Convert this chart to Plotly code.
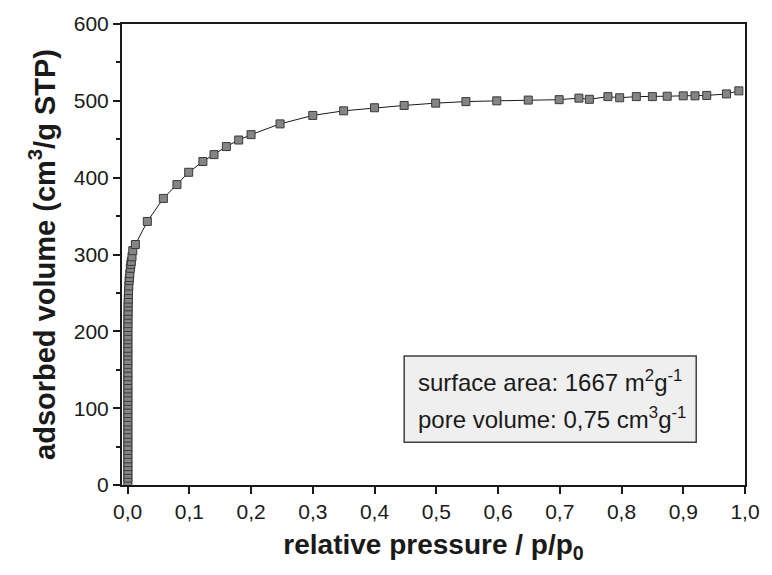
import plotly.graph_objects as go

# relative pressure p/p0 and adsorbed volume (cm3/g STP)
p_low = [0.0005, 0.0005, 0.0005, 0.0005, 0.0005, 0.0005, 0.0005, 0.0005, 0.0005, 0.0005,
         0.0005, 0.0005, 0.0005, 0.0005, 0.0005, 0.0005, 0.0005, 0.0005, 0.0005, 0.0005,
         0.0005, 0.0005, 0.0005, 0.0005, 0.0005, 0.0005, 0.0005, 0.0005, 0.0005, 0.0005,
         0.0005, 0.0005, 0.0005, 0.0005, 0.0005, 0.0005, 0.0005, 0.0005, 0.0005, 0.0006,
         0.0006, 0.0007, 0.0008, 0.0009, 0.0010, 0.0012, 0.0014, 0.0016, 0.0020, 0.0025,
         0.0031, 0.0037, 0.0045, 0.0053, 0.0062, 0.0072, 0.0085, 0.0127]
v_low = [4, 9, 14, 19, 24, 29, 34, 40, 45, 50,
         56, 61, 66, 72, 77, 82, 88, 93, 98, 104,
         109, 114, 120, 125, 130, 136, 141, 146, 152, 157,
         162, 168, 173, 178, 184, 189, 194, 200, 205, 210,
         216, 221, 226, 232, 237, 242, 248, 253, 259, 266,
         270, 275, 282, 287, 291, 297, 305, 313]

p_high = [0.032, 0.058, 0.080, 0.099, 0.122, 0.140, 0.160, 0.180, 0.200, 0.247,
          0.300, 0.350, 0.400, 0.448, 0.499, 0.548, 0.598, 0.649, 0.699, 0.731,
          0.748, 0.778, 0.797, 0.824, 0.850, 0.874, 0.900, 0.919, 0.938, 0.970, 0.990]
v_high = [343, 373, 391, 407, 421, 430, 440.5, 449, 456, 470,
          481, 487, 491, 494, 497, 499, 500, 501, 501.5, 503.5,
          502, 505.5, 504, 505.5, 505.5, 506, 506.5, 506.5, 507, 509, 513]

pressure = p_low + p_high
volume = v_low + v_high

x_ticks = [0.0, 0.1, 0.2, 0.3, 0.4, 0.5, 0.6, 0.7, 0.8, 0.9, 1.0]
x_ticklabels = ["0,0", "0,1", "0,2", "0,3", "0,4", "0,5", "0,6", "0,7", "0,8", "0,9", "1,0"]
y_ticks = [0, 100, 200, 300, 400, 500, 600]

info_lines = ["surface area: 1667 m<sup>2</sup>g<sup>-1</sup>",
              "pore volume: 0,75 cm<sup>3</sup>g<sup>-1</sup>"]

FONT = "Arial, Liberation Sans, sans-serif"
INK = "#1a1a1a"

fig = go.Figure()
fig.add_trace(go.Scatter(
    x=pressure, y=volume, mode="lines+markers",
    line=dict(color=INK, width=1),
    marker=dict(symbol="square", size=8, color="#858585",
                line=dict(color="#3a3a3a", width=1)),
    showlegend=False, hoverinfo="skip"))

fig.add_shape(type="rect", xref="x", yref="y", x0=0.448, x1=0.921, y0=55.5, y1=168,
              fillcolor="#efefef", line=dict(color="#404040", width=1.5), layer="below")
fig.add_annotation(x=0.4666, y=135, xref="x", yref="y", text=info_lines[0],
                   showarrow=False, xanchor="left", yanchor="middle",
                   font=dict(family=FONT, size=24, color=INK))
fig.add_annotation(x=0.4666, y=87, xref="x", yref="y", text=info_lines[1],
                   showarrow=False, xanchor="left", yanchor="middle",
                   font=dict(family=FONT, size=24, color=INK))

axis_common = dict(showline=True, linecolor=INK, linewidth=2, mirror=True,
                   ticks="outside", ticklen=7, tickwidth=2, tickcolor=INK,
                   showgrid=False, zeroline=False, ticklabeloverflow="allow",
                   tickfont=dict(family=FONT, size=21, color=INK))

fig.update_xaxes(range=[-0.009, 1.0], tickvals=x_ticks, ticktext=x_ticklabels,
                 title=dict(text="<b>relative pressure / p/p<sub>0</sub></b>",
                            font=dict(family=FONT, size=28, color=INK), standoff=12),
                 **axis_common)
fig.update_yaxes(range=[0, 600], tickvals=y_ticks,
                 minor=dict(dtick=50, ticks="outside", ticklen=4, tickwidth=2,
                            tickcolor=INK, showgrid=False),
                 title=dict(text="<b>adsorbed volume (cm<sup>3</sup>/g STP)</b>",
                            font=dict(family=FONT, size=29, color=INK), standoff=10),
                 **axis_common)

fig.update_layout(width=772, height=575, margin=dict(l=122, r=16, t=23, b=90),
                  paper_bgcolor="white", plot_bgcolor="white",
                  font=dict(family=FONT, color=INK))

fig.write_html("out.html", config={"displayModeBar": False},
               post_script="document.body.style.margin='0';document.body.style.overflow='hidden';")
